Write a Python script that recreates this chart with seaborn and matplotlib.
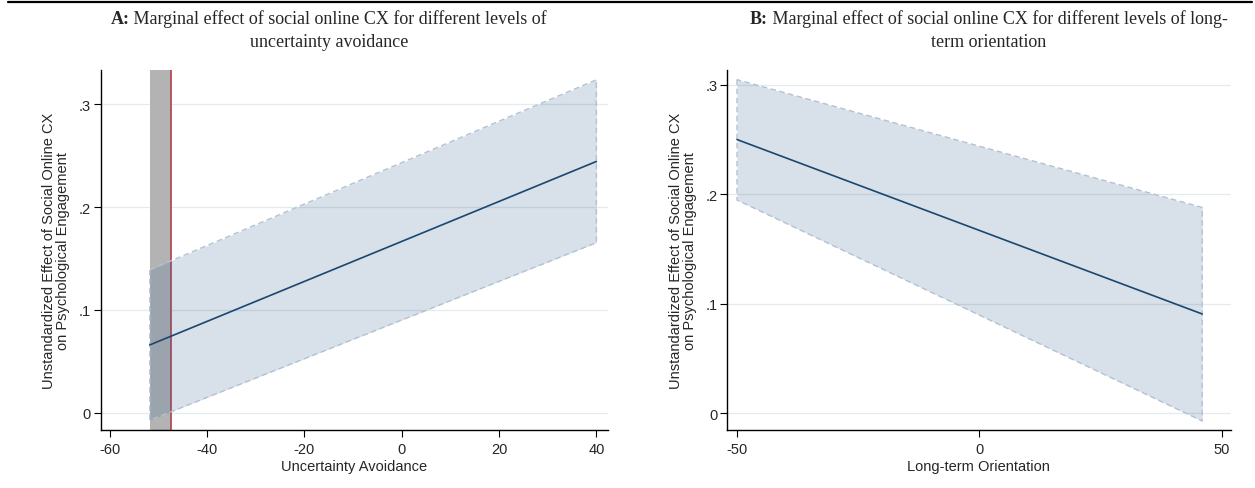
import numpy as np
import pandas as pd
import matplotlib
matplotlib.use("Agg")
import matplotlib.pyplot as plt
import seaborn as sns
from matplotlib.lines import Line2D

# Panel A: uncertainty avoidance
ua_x = [-51.8, 40.0]
ua_effect = [0.066, 0.2445]
ua_upper = [0.139, 0.324]
ua_lower = [-0.0072, 0.1655]
ua_ns_region = [-51.8, -47.5]   # grey band, red line at right edge

# Panel B: long-term orientation
lto_x = [-50.0, 46.0]
lto_effect = [0.25, 0.0907]
lto_upper = [0.3047, 0.188]
lto_lower = [0.1948, -0.007]

y_ticks = [0, 0.1, 0.2, 0.3]
y_ticklabels = ["0", ".1", ".2", ".3"]
ua_xticks = [-60, -40, -20, 0, 20, 40]
lto_xticks = [-50, 0, 50]

ylabel = "Unstandardized Effect of Social Online CX\non Psychological Engagement"

sns.set_theme(style="white")
plt.rcParams["font.family"] = ["Liberation Sans", "DejaVu Sans"]

line_col = "#1a476f"
ci_col = "#3c6491"
ci_edge = "#b3c1d1"
grid_col = "#e2ecee"

fig = plt.figure(figsize=(12.55, 4.89), dpi=100)
axA = fig.add_axes([0.0802, 0.1192, 0.4043, 0.7356])
axB = fig.add_axes([0.5793, 0.1192, 0.4014, 0.7356])


def draw_panel(ax, x, eff, lo, hi, xticks, xlim, ylim, xlabel):
    df = pd.DataFrame({"x": x, "effect": eff})
    for t in y_ticks:
        ax.axhline(t, color=grid_col, lw=0.9, zorder=0)
    ax.fill_between(x, lo, hi, facecolor=ci_col, alpha=0.2, zorder=2, lw=0)
    ax.fill_between(x, lo, hi, facecolor="none", edgecolor=ci_edge,
                    linestyle=(0, (4, 2.5)), lw=1.0, zorder=3)
    sns.lineplot(data=df, x="x", y="effect", ax=ax, color=line_col, lw=1.2, zorder=4)
    ax.set_xlim(*xlim)
    ax.set_ylim(*ylim)
    ax.set_xticks(xticks)
    ax.set_xticklabels([str(t) for t in xticks], fontsize=10.5)
    ax.set_yticks(y_ticks)
    ax.set_yticklabels(y_ticklabels, fontsize=10.5)
    ax.set_xlabel(xlabel, fontsize=10.5, labelpad=2)
    ax.set_ylabel(ylabel, fontsize=10.5, labelpad=6, linespacing=1.0)
    for s in ["top", "right"]:
        ax.spines[s].set_visible(False)
    for s in ["left", "bottom"]:
        ax.spines[s].set_color("black")
        ax.spines[s].set_linewidth(1.0)
    ax.tick_params(axis="both", direction="out", length=5, width=0.8,
                   color="black", bottom=True, left=True)
    ax.tick_params(axis="x", pad=4)
    ax.tick_params(axis="y", pad=2)


# Panel A
axA.axvspan(ua_ns_region[0], ua_ns_region[1], color="#b3b3b3", zorder=1, lw=0)
axA.axvline(ua_ns_region[1], color="#b0404a", lw=1.2, zorder=1.5)
draw_panel(axA, ua_x, ua_effect, ua_lower, ua_upper, ua_xticks,
           (-61.9, 42.4), (-0.0165, 0.3335), "Uncertainty Avoidance")

# Panel B
draw_panel(axB, lto_x, lto_effect, lto_lower, lto_upper, lto_xticks,
           (-52.06, 51.9), (-0.015, 0.3135), "Long-term Orientation")

# Titles: bold panel letter followed by regular text, centred as one line
serif = ["Liberation Serif", "DejaVu Serif"]
tsize = 13
renderer = fig.canvas.get_renderer()


def title_line(xc, y, bold, rest):
    tb = fig.text(0, y, bold, family=serif, fontsize=tsize, fontweight="bold", va="baseline")
    tr = fig.text(0, y, rest, family=serif, fontsize=tsize, va="baseline")
    wb = tb.get_window_extent(renderer).width / fig.bbox.width
    wr = tr.get_window_extent(renderer).width / fig.bbox.width
    x0 = xc - (wb + wr) / 2
    tb.set_x(x0)
    tr.set_x(x0 + wb)


title_line(0.262, 1 - 24 / 489, "A:", " Marginal effect of social online CX for different levels of")
fig.text(0.262, 1 - 47 / 489, "uncertainty avoidance", family=serif, fontsize=tsize,
         ha="center", va="baseline")
title_line(0.788, 1 - 24 / 489, "B:", " Marginal effect of social online CX for different levels of long-")
fig.text(0.788, 1 - 47 / 489, "term orientation", family=serif, fontsize=tsize,
         ha="center", va="baseline")

fig.add_artist(Line2D([0.006, 0.998], [0.994, 0.994], transform=fig.transFigure,
                      color="black", lw=1.6))

fig.savefig("out.png", dpi=100)
